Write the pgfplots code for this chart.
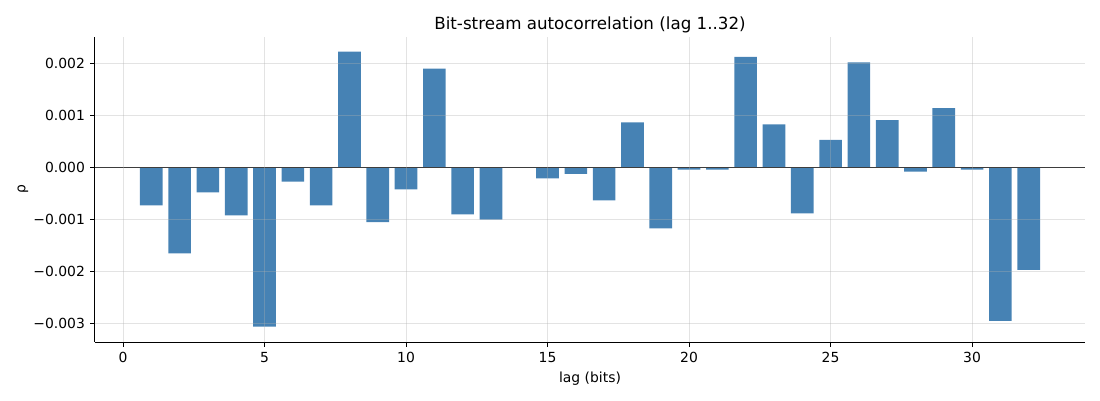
\documentclass[border=0pt]{standalone}
\usepackage{fontspec}
\setmainfont{DejaVu Sans}
\usepackage{pgfplots}
\pgfplotsset{compat=1.18}
\definecolor{barblue}{RGB}{70,130,180}
\definecolor{gridc}{RGB}{176,176,176}
\pgfplotstableread{
lag rho
1 -0.00074
2 -0.00166
3 -0.00049
4 -0.00093
5 -0.00307
6 -0.00028
7 -0.00074
8 0.00222
9 -0.00106
10 -0.00043
11 0.00189
12 -0.00091
13 -0.00101
14 0.0
15 -0.00022
16 -0.00013
17 -0.00064
18 0.00086
19 -0.00118
20 -0.00005
21 -0.00005
22 0.00212
23 0.00082
24 -0.00089
25 0.00052
26 0.00201
27 0.00090
28 -0.00009
29 0.00113
30 -0.00005
31 -0.00296
32 -0.00198
}\rhotable
\begin{document}
\begin{tikzpicture}[x=1pt,y=1pt]
\useasboundingbox (-95,-58) rectangle (1005,342);
\begin{axis}[
  at={(0,0)}, anchor=south west,
  scale only axis, width=990pt, height=305pt,
  xmin=-0.99, xmax=33.99, ymin=-0.003365, ymax=0.0025,
  axis x line*=bottom, axis y line*=left,
  axis line style={black, line width=1pt},
  xtick={0,5,10,15,20,25,30},
  ytick={-0.003,-0.002,-0.001,0,0.001,0.002},
  yticklabels={−0.003,−0.002,−0.001,0.000,0.001,0.002},
  scaled y ticks=false,
  /pgf/number format/assume math mode=true,
  tick align=outside, major tick length=4.9pt,
  tick style={black, line width=1pt},
  xticklabel style={font=\fontsize{13.9}{16}\selectfont, inner sep=0pt, yshift=-5pt},
  yticklabel style={font=\fontsize{13.9}{16}\selectfont, inner sep=0pt, xshift=-5pt},
  grid=major, major grid style={gridc, opacity=0.35, line width=0.9pt},
  axis on top,
  title={Bit-stream autocorrelation (lag 1..32)},
  title style={font=\fontsize{16.7}{19}\selectfont, inner sep=0pt, yshift=-2pt},
  xlabel={lag (bits)},
  xlabel style={font=\fontsize{13.9}{16}\selectfont, inner sep=0pt, yshift=-9pt},
  ylabel={ρ},
  ylabel style={font=\fontsize{13.9}{16}\selectfont, inner sep=0pt, yshift=5pt},
]
\addplot[ybar, bar width=0.8, bar shift=0pt, fill=barblue, draw=none] table[x=lag, y=rho] {\rhotable};
\addplot[black, line width=1pt, forget plot] coordinates {(-0.99,0) (33.99,0)};
\end{axis}
\end{tikzpicture}
\end{document}
